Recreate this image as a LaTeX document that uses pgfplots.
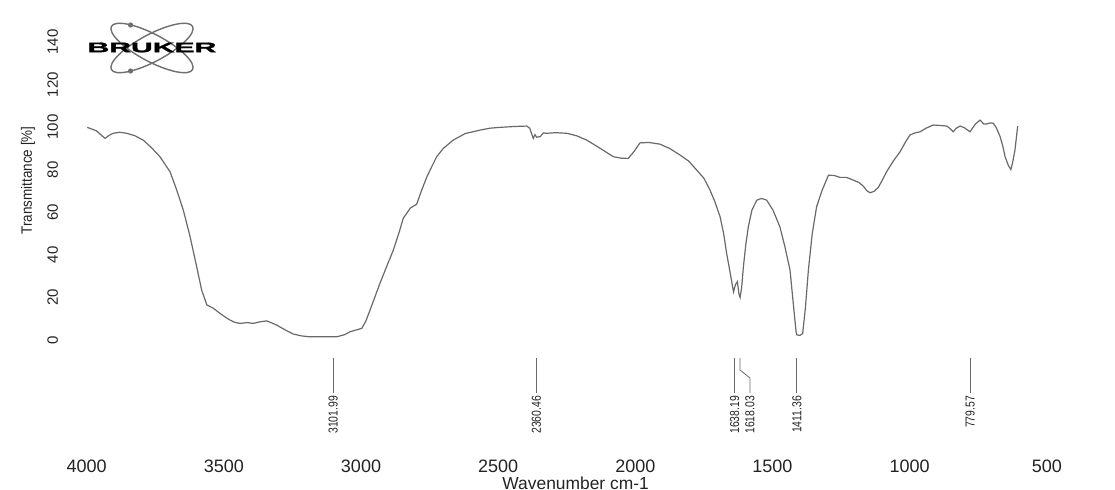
\documentclass[border=0pt]{standalone}
\usepackage{fontspec}
\setmainfont{Liberation Sans}
\newfontfamily\logofont{Liberation Sans}[BoldFeatures={FakeBold=1.5}]
\usepackage{graphicx}
\usepackage{pgfplots}
\pgfplotsset{compat=1.18}
\definecolor{curve}{RGB}{105,105,105}
\definecolor{txt}{RGB}{35,35,35}
\definecolor{logo}{RGB}{110,110,110}
\tikzset{
  peak/.style={draw=curve, line width=0.4pt},
  plab/.style={rotate=90, anchor=east, inner sep=0.6pt, font=\fontsize{6.5}{7}\selectfont, text=txt},
}
\begin{document}
\begin{tikzpicture}
\path[use as bounding box] (-36.5pt,-17.5pt) rectangle (521pt,227.5pt);
\begin{axis}[
  at={(0,0)}, anchor=south west,
  scale only axis, width=493.75pt, height=217.15pt,
  x dir=reverse, xmin=450, xmax=4050, ymin=-54, ymax=150,
  clip=false,
  axis line style={draw=none}, tick style={draw=none},
  xtick={4000,3500,3000,2500,2000,1500,1000,500},
  ytick={0,20,40,60,80,100,120,140},
  /pgf/number format/1000 sep={},
  /pgf/number format/assume math mode=true,
  xticklabel style={anchor=north, inner sep=0pt, yshift=-2.5pt, font=\fontsize{9}{10}\selectfont, text=txt},
  yticklabel style={xshift=-4pt, rotate=90, anchor=south, font=\fontsize{7.5}{8}\selectfont, text=txt},
  xlabel={Wavenumber cm-1},
  xlabel style={at={(axis description cs:0.509,-0.0645)}, anchor=center, inner sep=0pt, font=\fontsize{8.7}{9}\selectfont, text=txt},
  ylabel={\scalebox{0.9}[1]{Transmittance [\%]}},
  ylabel style={at={(axis description cs:-0.0456,0.632)}, anchor=center, font=\fontsize{7.5}{8}\selectfont, text=txt},
]
\addplot[curve, line width=0.6pt, mark=none] coordinates {
(3998,99.9) (3965,98.3) (3933,94.7) (3918,96.2) (3903,97.1) (3880,97.6) (3854,97.1) (3825,96.0) (3794,93.9) (3765,90.5) (3733,86.1) (3696,79.0) (3672,70.5) (3648,61.1) (3623,48.5) (3599,34.4) (3581,23.5) (3562,16.5) (3538,14.9) (3514,12.5) (3495,10.8) (3478,9.4) (3460,8.3) (3441,7.8) (3415,8.2) (3393,7.8) (3370,8.5) (3344,9.0) (3325,8.0) (3307,7.0) (3280,5.0) (3247,2.8) (3215,1.9) (3186,1.5) (3140,1.5) (3089,1.5) (3060,2.5) (3040,3.9) (3015,4.8) (2997,5.5) (2982,9) (2967,14.1) (2950,20) (2931,26.6) (2905,35) (2882,42.3) (2860,51) (2846,57.2) (2820,62) (2797,63.8) (2780,70) (2760,76.6) (2740,82) (2724,86.1) (2700,90) (2664,93.9) (2620,97) (2566,98.6) (2530,99.5) (2493,99.9) (2440,100.3) (2396,100.5) (2385,99.5) (2372,94.7) (2366,96.5) (2360,95.3) (2347,95.5) (2335,97.3) (2323,97.1) (2290,97.4) (2250,97.1) (2215,96.0) (2177,93.9) (2130,90.2) (2080,86.1) (2050,85.4) (2026,85.3) (2005,88.5) (1983,92.6) (1950,92.8) (1910,92.0) (1875,90) (1837,86.9) (1805,84) (1776,79.8) (1750,76) (1728,70.5) (1710,65) (1691,57.9) (1678,50) (1667,40.7) (1652,30) (1642,22.6) (1635,26) (1628,27.4) (1622,21.5) (1618,20.0) (1612,25) (1606,34.4) (1597,45) (1588,53.2) (1575,61) (1557,65.7) (1540,66.5) (1521,65.7) (1498,61) (1473,53.2) (1455,44) (1436,32.9) (1424,17) (1414,4) (1411,2.4) (1400,2.2) (1390,3) (1380,15) (1369,32.9) (1355,50) (1339,62.6) (1320,70) (1296,77.4) (1275,77.3) (1254,76.4) (1230,76.4) (1205,75.1) (1185,74) (1169,72.3) (1155,70) (1144,69.2) (1130,69.8) (1114,71.7) (1100,75) (1084,79.0) (1060,84) (1035,88.4) (1015,93) (999,96.3) (980,97.3) (962,97.8) (940,99.5) (914,101.0) (890,100.8) (865,100.5) (855,99.6) (841,97.8) (830,99.5) (816,100.5) (800,99.7) (780,97.8) (760,101.5) (743,103.3) (730,101.5) (719,101.5) (705,102.0) (695,101.8) (685,100) (670,95.5) (660,91) (652,86.1) (640,82) (631,80.1) (625,83) (616,89.2) (606,100.5)
};
% peak picks
\draw[peak] (axis cs:3101.99,-8.46) -- (axis cs:3101.99,-24.9);
\draw[peak] (axis cs:2360.46,-8.46) -- (axis cs:2360.46,-24.9);
\draw[peak] (axis cs:1638.19,-8.46) -- (axis cs:1638.19,-24.9);
\draw[peak] (axis cs:1618.03,-8.46) -- (axis cs:1618.03,-14.1) -- (axis cs:1582,-17.85) -- (axis cs:1582,-24.9);
\draw[peak] (axis cs:1411.36,-8.46) -- (axis cs:1411.36,-24.9);
\draw[peak] (axis cs:779.57,-8.46) -- (axis cs:779.57,-24.9);
\node[plab] at (axis cs:3101.99,-25.6) {\scalebox{0.8}[1]{3101.99}};
\node[plab] at (axis cs:2360.46,-25.6) {\scalebox{0.8}[1]{2360.46}};
\node[plab] at (axis cs:1638.19,-25.6) {\scalebox{0.8}[1]{1638.19}};
\node[plab] at (axis cs:1582,-25.6) {\scalebox{0.8}[1]{1618.03}};
\node[plab] at (axis cs:1411.36,-25.6) {\scalebox{0.8}[1]{1411.36}};
\node[plab] at (axis cs:779.57,-25.6) {\scalebox{0.8}[1]{779.57}};
\end{axis}
% Bruker logo
\draw[logo, line width=0.7pt, rotate around={28:(39.5pt,203.5pt)}] (39.5pt,203.5pt) ellipse (23pt and 6.8pt);
\draw[logo, line width=0.7pt, rotate around={-28:(39.5pt,203.5pt)}] (39.5pt,203.5pt) ellipse (23pt and 6.8pt);
\fill[logo] (28.8pt,215pt) circle (1.3pt);
\fill[logo] (28.8pt,192pt) circle (1.3pt);
\node[inner sep=0pt, font=\logofont\fontsize{7}{8}\bfseries\selectfont] at (39.5pt,203.75pt) {\scalebox{2.15}[1]{BRUKER}};
\end{tikzpicture}
\end{document}
